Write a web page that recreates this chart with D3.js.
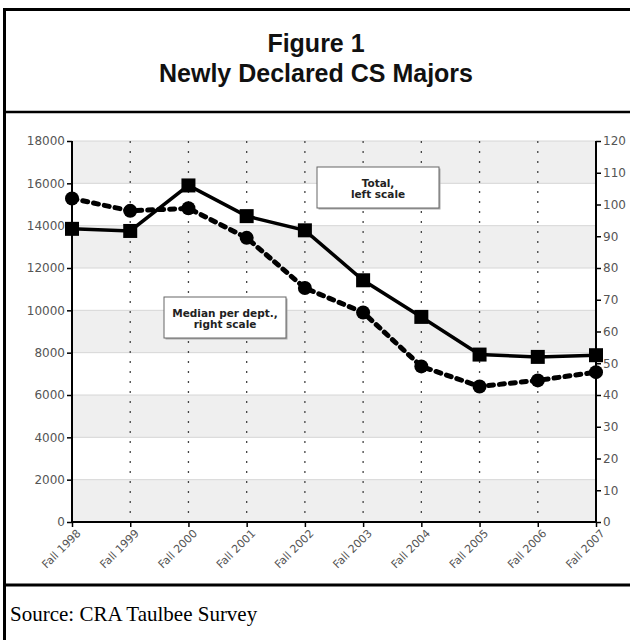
<!DOCTYPE html>
<html><head><meta charset="utf-8">
<script src="https://cdn.jsdelivr.net/npm/d3@7"></script>
<style>body{margin:0;background:#fff}svg{display:block}</style>
</head><body>
<script>
const categories = ["Fall 1998","Fall 1999","Fall 2000","Fall 2001","Fall 2002","Fall 2003","Fall 2004","Fall 2005","Fall 2006","Fall 2007"];
const totalMajors = [13850,13750,15900,14450,13780,11420,9690,7910,7800,7880];
const medianPerDept = [101.9,98,98.8,89.5,73.7,66,49,42.7,44.6,47.2];
const leftTicks = [0,2000,4000,6000,8000,10000,12000,14000,16000,18000];
const rightTicks = [0,10,20,30,40,50,60,70,80,90,100,110,120];
const titleLines = ["Figure 1","Newly Declared CS Majors"];
const sourceText = "Source: CRA Taulbee Survey";
const legendTotal = ["Total,","left scale"];
const legendMedian = ["Median per dept.,","right scale"];

const W=630,H=640;
const svg=d3.select("body").append("svg").attr("width",W).attr("height",H);

const L=72,R=596,T=141,B=522;
const x=d3.scalePoint().domain(categories).range([L,R]);
const yL=d3.scaleLinear().domain([0,18000]).range([B,T]);
const yR=d3.scaleLinear().domain([0,120]).range([B,T]);

// frame
svg.append("rect").attr("x",4.5).attr("y",9.5).attr("width",640).attr("height",700).attr("fill","none").attr("stroke","#000").attr("stroke-width",3);
svg.append("line").attr("x1",4).attr("x2",W).attr("y1",112).attr("y2",112).attr("stroke","#000").attr("stroke-width",2.5);
svg.append("line").attr("x1",4).attr("x2",W).attr("y1",585).attr("y2",585).attr("stroke","#000").attr("stroke-width",3);

// title
svg.selectAll("text.title").data(titleLines).join("text").attr("class","title")
  .attr("x",316).attr("y",(d,i)=>52+i*30).attr("text-anchor","middle")
  .attr("font-family","Liberation Sans, Arial, sans-serif").attr("font-weight","bold").attr("font-size",25)
  .attr("fill","#111").text(d=>d);

// bands
const bands=d3.pairs(leftTicks).filter((p,i)=>i%2===0);
svg.append("g").selectAll("rect").data(bands).join("rect")
  .attr("x",L).attr("width",R-L).attr("y",d=>yL(d[1])).attr("height",d=>yL(d[0])-yL(d[1]))
  .attr("fill","#efefef");
svg.append("g").selectAll("line").data(leftTicks.slice(1)).join("line")
  .attr("x1",L).attr("x2",R).attr("y1",d=>yL(d)).attr("y2",d=>yL(d)).attr("stroke","#d6d6d6").attr("stroke-width",1);
// vertical dotted
svg.append("g").selectAll("line").data(categories.slice(1,-1)).join("line")
  .attr("x1",d=>x(d)).attr("x2",d=>x(d)).attr("y1",T).attr("y2",B)
  .attr("stroke","#444").attr("stroke-width",1.3).attr("stroke-dasharray","2,8");

// axes
const fontAx="DejaVu Sans, Verdana, sans-serif";
const gl=svg.append("g").attr("transform",`translate(${L},0)`).call(d3.axisLeft(yL).tickValues(leftTicks).tickSize(5).tickPadding(2).tickFormat(d3.format("d")));
const gr=svg.append("g").attr("transform",`translate(${R},0)`).call(d3.axisRight(yR).tickValues(rightTicks).tickSize(5).tickPadding(2).tickFormat(d3.format("d")));
const gb=svg.append("g").attr("transform",`translate(0,${B})`).call(d3.axisBottom(x).tickSize(5).tickSizeOuter(0));
[gl,gr,gb].forEach(g=>{
  g.selectAll(".domain").attr("stroke","#000").attr("stroke-width",2);
  g.selectAll(".tick line").attr("stroke","#000").attr("stroke-width",1.5);
  g.selectAll("text").attr("font-family",fontAx).attr("font-size",12).attr("fill","#555");
});
gl.select(".domain").attr("d",`M0,${B}V${T}`);
gr.select(".domain").attr("d",`M0,${B}V${T}`);
gb.select(".domain").attr("d",`M${L},0H${R}`);
gb.selectAll("text").attr("text-anchor","end").attr("dy",null).attr("y",0)
  .attr("transform","translate(9,12) rotate(-45)").attr("font-size",11);

// lines
const lineT=d3.line().x((d,i)=>x(categories[i])).y(d=>yL(d));
const lineM=d3.line().x((d,i)=>x(categories[i])).y(d=>yR(d));
svg.append("path").datum(medianPerDept).attr("d",lineM).attr("fill","none").attr("stroke","#000")
  .attr("stroke-width",5).attr("stroke-dasharray","5,6").attr("stroke-linecap","round");
svg.append("path").datum(totalMajors).attr("d",lineT).attr("fill","none").attr("stroke","#000").attr("stroke-width",3.5);
svg.append("g").selectAll("circle").data(medianPerDept).join("circle")
  .attr("cx",(d,i)=>x(categories[i])).attr("cy",d=>yR(d)).attr("r",7).attr("fill","#000");
svg.append("g").selectAll("rect").data(totalMajors).join("rect")
  .attr("x",(d,i)=>x(categories[i])-7).attr("y",d=>yL(d)-7).attr("width",14).attr("height",14).attr("fill","#000");

// legend boxes
function legendBox(x0,y0,w,h,lines){
  const g=svg.append("g");
  g.append("rect").attr("x",x0+1.5).attr("y",y0+1.5).attr("width",w).attr("height",h).attr("fill","#aaa");
  g.append("rect").attr("x",x0).attr("y",y0).attr("width",w).attr("height",h).attr("fill","#fff").attr("stroke","#666").attr("stroke-width",1);
  g.selectAll("text").data(lines).join("text").attr("x",x0+w/2).attr("y",(d,i)=>y0+h/2-1+i*11)
    .attr("text-anchor","middle").attr("font-family",fontAx).attr("font-weight","bold").attr("font-size",10.5).attr("fill","#222").text(d=>d);
}
legendBox(317,167,122,41,legendTotal);
legendBox(164,297,122,41,legendMedian);

// source
svg.append("text").attr("x",10).attr("y",621).attr("font-family","Liberation Serif, Times New Roman, serif")
  .attr("font-size",21).attr("fill","#000").text(sourceText);
</script>
</body></html>
